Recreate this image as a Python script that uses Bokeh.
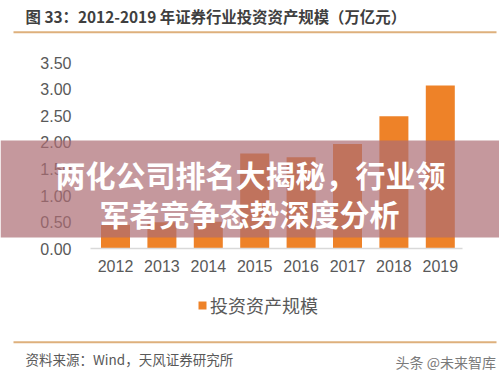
from bokeh.plotting import figure
from bokeh.models import (Range1d, FixedTicker, NumeralTickFormatter,
                          Label, BoxAnnotation, Legend, LegendItem)
from bokeh.embed import file_html
from bokeh.resources import INLINE

# ---- data ----
years = [2012, 2013, 2014, 2015, 2016, 2017, 2018, 2019]
assets = [0.45, 0.50, 0.51, 1.79, 1.72, 1.97, 2.49, 3.07]
y_ticks = [0.0, 0.5, 1.0, 1.5, 2.0, 2.5, 3.0, 3.5]
series_name = "投资资产规模"
title_text = "图 33：2012-2019 年证券行业投资资产规模（万亿元）"
source_text = "资料来源：Wind，天风证券研究所"
overlay_line1 = "两化公司排名大揭秘，行业领"
overlay_line2 = "军者竞争态势深度分析"
watermark = "头条 @未来智库"

# ---- layout (frame covers the whole canvas) ----
W, H = 499, 379
px_x = 46.4          # pixels per year
px_y = 53.2          # pixels per unit
x0_px, y0_px = 115.0, 248.3   # pixel position of first year / zero line
x_start = years[0] - x0_px / px_x
y_start = -(H - y0_px) / px_y


def xd(px):
    return x_start + px / px_x


p = figure(width=W, height=H,
           x_range=Range1d(x_start, x_start + W / px_x),
           y_range=Range1d(y_start, y_start + H / px_y),
           output_backend="svg", toolbar_location=None,
           min_border_left=0, min_border_right=0,
           min_border_top=0, min_border_bottom=0)
p.title.visible = False
p.outline_line_color = None
p.xgrid.visible = False
p.ygrid.visible = False
p.background_fill_color = "white"
p.border_fill_color = "white"

bar_color = "#EE8228"
r = p.vbar(x=years, top=assets, width=0.625, fill_color=bar_color, line_color=None)

# axes drawn at fixed locations inside the frame
ya = p.yaxis[0]
ya.fixed_location = xd(90)
ya.ticker = FixedTicker(ticks=y_ticks)
ya.formatter = NumeralTickFormatter(format="0.00")
ya.axis_line_color = None
ya.major_tick_line_color = None
ya.minor_tick_line_color = None
ya.major_tick_out = 0
ya.major_label_standoff = 19
ya.major_label_text_font = "Liberation Sans"
ya.major_label_text_font_size = "16px"
ya.major_label_text_color = "#595959"

xa = p.xaxis[0]
xa.fixed_location = 0
xa.bounds = (xd(90), xd(462))
xa.ticker = FixedTicker(ticks=years)
xa.formatter = NumeralTickFormatter(format="0")
xa.axis_line_color = "#D9D9D9"
xa.axis_line_width = 1.5
xa.major_tick_line_color = None
xa.minor_tick_line_color = None
xa.major_tick_out = 0
xa.major_label_standoff = 11
xa.major_label_text_font = "Liberation Sans"
xa.major_label_text_font_size = "16px"
xa.major_label_text_color = "#595959"


def sy(py):
    return H - py


# legend below the chart
legend = Legend(items=[LegendItem(label=series_name, renderers=[r])],
                location=(197, sy(318)), orientation="horizontal",
                glyph_width=10, glyph_height=10, label_height=18,
                label_text_font="Noto Sans CJK SC", label_text_font_size="18px",
                label_text_color="#595959", label_standoff=3,
                border_line_color=None, background_fill_alpha=0,
                padding=10, margin=0)
p.add_layout(legend)


def box(l, r_, t, b, **kw):
    return BoxAnnotation(left=l, right=r_, top=sy(t), bottom=sy(b),
                         left_units="screen", right_units="screen",
                         top_units="screen", bottom_units="screen",
                         line_color=None, **kw)


# title and rules
p.add_layout(Label(x=25, y=sy(15), x_units="screen", y_units="screen",
                   text=title_text, text_font="Noto Sans CJK SC", text_font_style="bold",
                   text_font_size="15.4px", text_color="#3F3F3F",
                   text_align="left", text_baseline="middle"))
p.add_layout(box(13, 496, 30.7, 32.7, fill_color="#DEB07C", fill_alpha=1))
p.add_layout(box(13, 496, 340.7, 342.7, fill_color="#DEB07C", fill_alpha=1))
p.add_layout(Label(x=25, y=sy(358), x_units="screen", y_units="screen",
                   text=source_text, text_font="Noto Sans CJK SC",
                   text_font_size="13.5px", text_color="#595959",
                   text_align="left", text_baseline="middle"))
p.add_layout(Label(x=395, y=sy(361), x_units="screen", y_units="screen",
                   text=watermark, text_font="Noto Sans CJK SC",
                   text_font_size="14px", text_color="#7A7A7A",
                   text_align="left", text_baseline="middle"))

# overlay band and its text
band = box(0, W, 140, 237, fill_color=(172, 108, 115), fill_alpha=0.7, level="overlay")
p.add_layout(band)
for txt, cx, cy in [(overlay_line1, 250, 173), (overlay_line2, 249, 212)]:
    p.add_layout(Label(x=cx, y=sy(cy), x_units="screen", y_units="screen",
                       text=txt, text_font="Noto Sans CJK SC", text_font_style="bold",
                       text_font_size="30px", text_color="white",
                       text_align="center", text_baseline="middle", level="overlay"))

open("out.html", "w").write(file_html(p, INLINE))
